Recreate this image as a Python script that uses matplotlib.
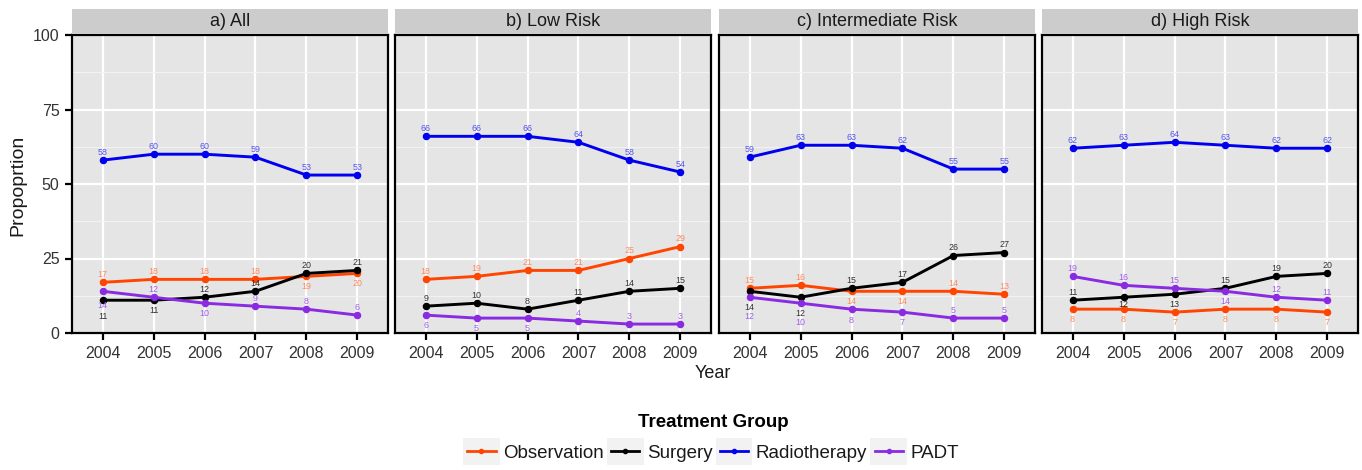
import matplotlib
matplotlib.use("Agg")
import matplotlib.pyplot as plt
import matplotlib.transforms as mtransforms
from matplotlib.legend_handler import HandlerLine2D
from matplotlib.patches import Rectangle
from matplotlib.lines import Line2D

plt.rcParams['font.family'] = ['Liberation Sans', 'DejaVu Sans']

years = [2004, 2005, 2006, 2007, 2008, 2009]
panels = ["a) All", "b) Low Risk", "c) Intermediate Risk", "d) High Risk"]
groups = ["Observation", "Surgery", "Radiotherapy", "PADT"]

observation = [[17, 18, 18, 18, 19, 20],
               [18, 19, 21, 21, 25, 29],
               [15, 16, 14, 14, 14, 13],
               [8, 8, 7, 8, 8, 7]]
surgery = [[11, 11, 12, 14, 20, 21],
           [9, 10, 8, 11, 14, 15],
           [14, 12, 15, 17, 26, 27],
           [11, 12, 13, 15, 19, 20]]
radiotherapy = [[58, 60, 60, 59, 53, 53],
                [66, 66, 66, 64, 58, 54],
                [59, 63, 63, 62, 55, 55],
                [62, 63, 64, 63, 62, 62]]
padt = [[14, 12, 10, 9, 8, 6],
        [6, 5, 5, 4, 3, 3],
        [12, 10, 8, 7, 5, 5],
        [19, 16, 15, 14, 12, 11]]

series = [observation, surgery, radiotherapy, padt]
colors = ["#FF4500", "#000000", "#0000EE", "#8A2BE2"]
label_colors = ["#FF8A60", "#333333", "#5555EE", "#A060E8"]

# label vertical placement (pixels, positive = below the point)
A, B, BB, BBB = -8, 10, 16, 19
label_pos = {
    0: [[A, A, A, A, B, B], [BB, B, A, A, A, A], [A] * 6, [BB - 2, A, B, A, A, A]],
    1: [[A] * 6, [A] * 6, [A] * 6, [B, B, B, A, A, A]],
    2: [[A, A, B, B, A, A], [BB, BB, A, A, A, A], [A] * 6, [BBB, BBB, B + 1, B, A, A]],
    3: [[B] * 6, [A, 7, B, A, A, A], [A] * 6, [A, A, A, B, A, A]],
}

W, H = 1362, 470
fig = plt.figure(figsize=(W / 100, H / 100), dpi=100)

panel_left = [72, 395, 719, 1042]
panel_w = 316
panel_top, panel_bot = 35, 333
strip_top = 9

for p in range(4):
    x0 = panel_left[p]
    ax = fig.add_axes([x0 / W, (H - panel_bot) / H, panel_w / W, (panel_bot - panel_top) / H])
    ax.set_facecolor("#E5E5E5")
    ax.set_xlim(2003.4, 2009.6)
    ax.set_ylim(0, 100)
    ax.set_xticks(years)
    ax.set_xticklabels([str(y) for y in years])
    ax.set_yticks([0, 25, 50, 75, 100])
    ax.set_yticks([12.5, 37.5, 62.5, 87.5], minor=True)
    ax.grid(True, which='major', color='white', lw=1.6, zorder=0)
    ax.grid(True, which='minor', axis='y', color='#F2F2F2', lw=0.8, zorder=0)
    ax.set_axisbelow(True)
    for s in ax.spines.values():
        s.set_color('black')
        s.set_linewidth(1.6)
    ax.tick_params(axis='both', which='major', length=5, width=1.6, color='black',
                   labelsize=11.5, labelcolor='#333333', pad=4)
    ax.tick_params(axis='both', which='minor', length=0)
    if p > 0:
        ax.tick_params(axis='y', which='major', length=0, labelleft=False)

    for g in range(4):
        vals = series[g][p]
        ax.plot(years, vals, color=colors[g], lw=2.1, marker='o', ms=4.4, zorder=3)
        for i, (x, v) in enumerate(zip(years, vals)):
            off = label_pos[p][g][i]
            tr = mtransforms.offset_copy(ax.transData, fig=fig, x=0, y=-off, units='dots')
            ax.text(x, v, str(v), transform=tr, ha='center', va='center',
                    fontsize=6.4, color=label_colors[g], zorder=4)

    sax = fig.add_axes([x0 / W, (H - panel_top + 1) / H, panel_w / W, (panel_top - 1 - strip_top) / H])
    sax.set_facecolor("#CCCCCC")
    sax.set_xticks([])
    sax.set_yticks([])
    for s in sax.spines.values():
        s.set_visible(False)
    sax.text(0.5, 0.48, panels[p], ha='center', va='center', fontsize=13,
             color='#1A1A1A', transform=sax.transAxes)

fig.text(18 / W, 1 - 185 / H, "Propoprtion", rotation=90, ha='center', va='center',
         fontsize=14, color='#1A1A1A')
fig.text(713 / W, 1 - 373 / H, "Year", ha='center', va='center', fontsize=13, color='#1A1A1A')


class KeyHandler(HandlerLine2D):
    def create_artists(self, legend, orig_handle, xdescent, ydescent, width, height, fontsize, trans):
        rect = Rectangle((-xdescent - 3, -ydescent - 5), width + 6, height + 10,
                         facecolor='#F2F2F2', edgecolor='none', transform=trans)
        arts = super().create_artists(legend, orig_handle, xdescent, ydescent, width, height, fontsize, trans)
        return [rect] + arts


handles = [Line2D([], [], color=colors[g], lw=2.0, marker='o', ms=3) for g in range(4)]
leg = fig.legend(handles, groups, loc='center', bbox_to_anchor=(713 / W, 1 - 438 / H),
                 ncol=4, frameon=False, fontsize=13.5, title="Treatment Group",
                 title_fontproperties={'weight': 'bold', 'size': 13.5},
                 handlelength=1.5, handletextpad=0.4, columnspacing=0.4,
                 handler_map={Line2D: KeyHandler()}, labelspacing=0.3)
for t in leg.get_texts():
    t.set_color('#1A1A1A')
leg._legend_box.sep = 10

fig.savefig("out.png", dpi=100)
